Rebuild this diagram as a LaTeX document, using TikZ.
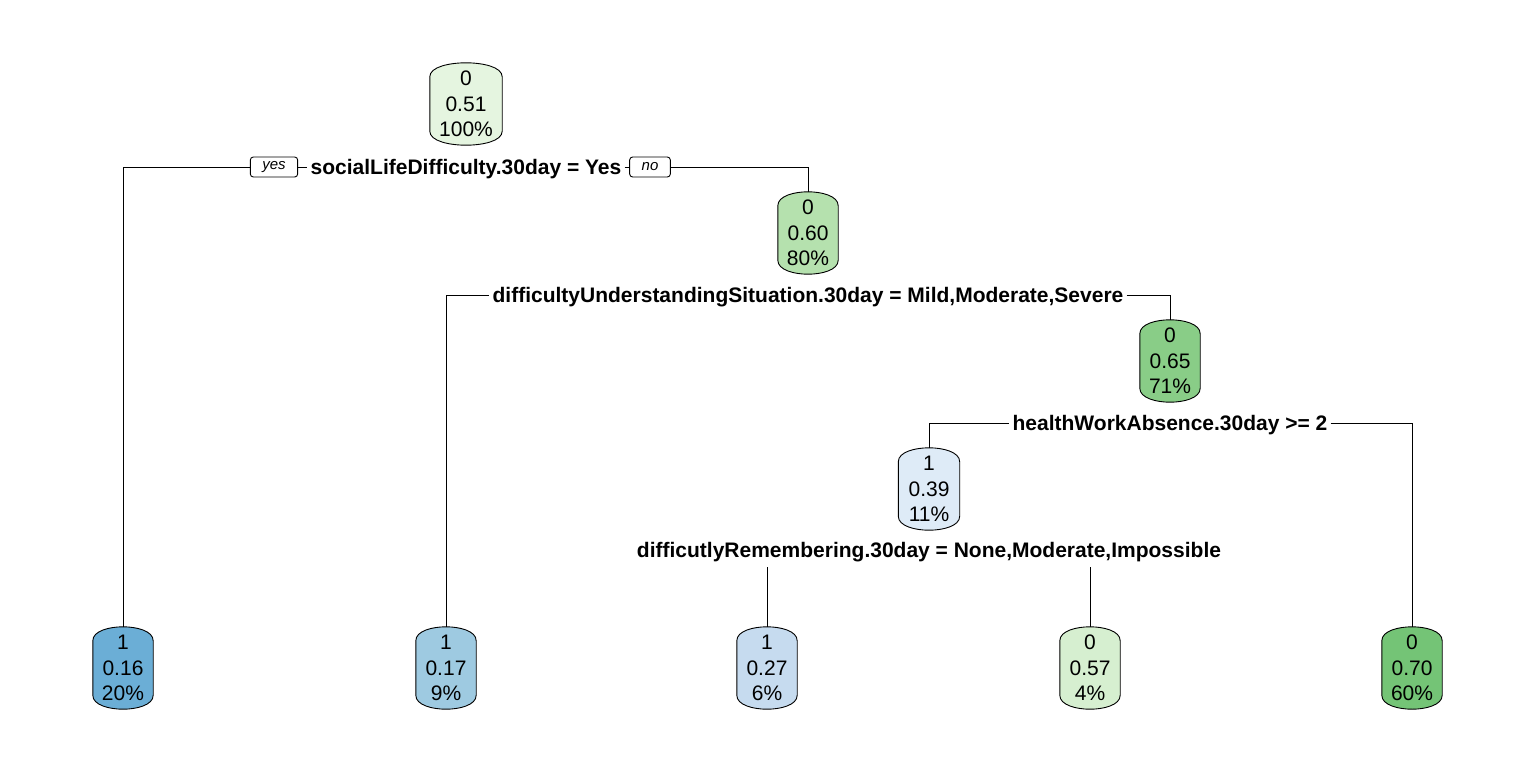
\documentclass[tikz,border=0pt]{standalone}
\usepackage{fontspec}
\setmainfont{Liberation Sans}
\usetikzlibrary{calc}
\pgfdeclarelayer{background}
\pgfsetlayers{background,main}
\definecolor{cRoot}{HTML}{E5F5E0}
\definecolor{cNtwo}{HTML}{B5E1AE}
\definecolor{cNthree}{HTML}{89CD87}
\definecolor{cNfour}{HTML}{DEEBF7}
\definecolor{cLone}{HTML}{6BAED6}
\definecolor{cLtwo}{HTML}{9ECAE1}
\definecolor{cLthree}{HTML}{C6DBEF}
\definecolor{cLfour}{HTML}{D6EFD0}
\definecolor{cLfive}{HTML}{74C476}
\newcommand\tbarrel[2]{%
  \begin{pgfonlayer}{background}
  \filldraw[fill=#2, line width=0.9pt] let \p1=(#1.south west), \p2=(#1.north east),
    \n1={0.5*(\x1+\x2)}, \n2={0.5*(\x2-\x1)} in
    (\x1,\y1+14pt) -- (\x1,\y2-14pt)
    .. controls (\x1,\y2-4pt) and (\x1+0.55*\n2,\y2) .. (\n1,\y2)
    .. controls (\x2-0.55*\n2,\y2) and (\x2,\y2-4pt) .. (\x2,\y2-14pt)
    -- (\x2,\y1+14pt)
    .. controls (\x2,\y1+4pt) and (\x2-0.55*\n2,\y1) .. (\n1,\y1)
    .. controls (\x1+0.55*\n2,\y1) and (\x1,\y1+4pt) .. cycle;
  \end{pgfonlayer}}
\tikzset{
  tn/.style={minimum width=60pt, minimum height=82pt, inner sep=0pt, align=center,
    font=\fontsize{21}{25.5}\selectfont},
  splitlab/.style={fill=white, inner xsep=3pt, inner ysep=9pt, text height=15pt, text depth=0pt,
    font=\bfseries\fontsize{21}{24}\selectfont},
  yn/.style={draw, fill=white, rounded corners=3pt, inner xsep=12pt, inner ysep=0pt,
    minimum height=20pt, line width=0.9pt, font=\itshape\fontsize{15}{18}\selectfont},
  edge/.style={line width=0.9pt}
}
\begin{document}
\begin{tikzpicture}[x=1pt, y=-1pt]
\useasboundingbox (0,0) rectangle (1536,768);
% tree nodes
\node[tn, minimum width=72pt] (root) at (466,104) {0\\0.51\\100\%};
\node[tn] (n2) at (808,233) {0\\0.60\\80\%};
\node[tn] (n3) at (1170,361) {0\\0.65\\71\%};
\node[tn, minimum width=61pt] (n4) at (929,489) {1\\0.39\\11\%};
\node[tn] (l1) at (123,668) {1\\0.16\\20\%};
\node[tn] (l2) at (446,668) {1\\0.17\\9\%};
\node[tn] (l3) at (767,668) {1\\0.27\\6\%};
\node[tn] (l4) at (1090,668) {0\\0.57\\4\%};
\node[tn] (l5) at (1412,668) {0\\0.70\\60\%};
\tbarrel{root}{cRoot}
\tbarrel{n2}{cNtwo}
\tbarrel{n3}{cNthree}
\tbarrel{n4}{cNfour}
\tbarrel{l1}{cLone}
\tbarrel{l2}{cLtwo}
\tbarrel{l3}{cLthree}
\tbarrel{l4}{cLfour}
\tbarrel{l5}{cLfive}
% split labels
\node[splitlab] (s1) at (466,167) {socialLifeDifficulty.30day = Yes};
\node[splitlab] (s2) at (808,295) {difficultyUnderstandingSituation.30day = Mild,Moderate,Severe};
\node[splitlab] (s3) at (1170,423) {healthWorkAbsence.30day >= 2};
\node[splitlab] (s4) at (929,550) {difficutlyRemembering.30day = None,Moderate,Impossible};
\node[yn] (yes) at (274,167) {yes};
\node[yn] (no) at (650,167) {no};
% connectors
\begin{pgfonlayer}{background}
\draw[edge] (l1.north) |- (s1) -| (n2.north);
\draw[edge] (l2.north) |- (s2) -| (n3.north);
\draw[edge] (n4.north) |- (s3) -| (l5.north);
\draw[edge] (l3.north) |- (s4) -| (l4.north);
\end{pgfonlayer}
\end{tikzpicture}
\end{document}
